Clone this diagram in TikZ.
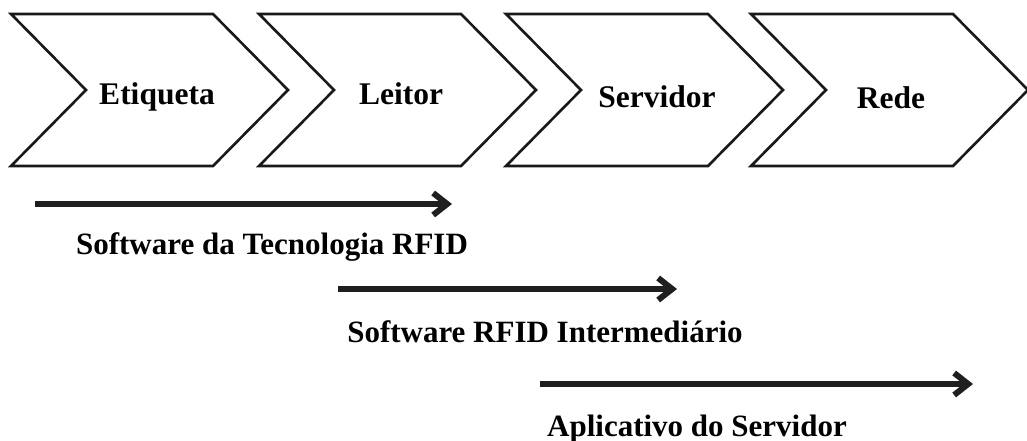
\documentclass[tikz,border=0pt]{standalone}
\usepackage{fontspec}
\setmainfont{Liberation Serif}
\usetikzlibrary{arrows.meta}
\tikzset{
  chev/.style={draw=black!90, line width=2.6pt, line join=miter, fill=white},
  steplabel/.style={anchor=base, font=\fontsize{31.5}{33}\selectfont\bfseries, inner sep=0pt},
  swlabel/.style={anchor=base, font=\fontsize{31}{33}\selectfont\bfseries, inner sep=0pt},
  swarrow/.style={draw=black!88, line width=5.5pt, -{Straight Barb[length=14pt,width=22pt,line width=6pt]}},
}
\begin{document}
\begin{tikzpicture}[x=1pt,y=-1pt]
\useasboundingbox (0,0) rectangle (1027,441);
% four process chevrons: body 202 wide, point 75 deep, height 152
\foreach \x in {11,259,506,751}{
  \draw[chev] (\x,14) -- ++(202,0) -- ++(75,76) -- ++(-75,76) -- ++(-202,0) -- ++(75,-76) -- cycle;
}
\node[steplabel] (etiqueta) at (157,105) {Etiqueta};
\node[steplabel] (leitor)   at (401,105) {Leitor};
\node[steplabel] (servidor) at (657,107) {Servidor};
\node[steplabel] (rede)     at (891,109) {Rede};
% software layers spanning the chain
\coordinate (s1a) at (35,204);  \coordinate (s1b) at (452,204);
\coordinate (s2a) at (338,289); \coordinate (s2b) at (677,289);
\coordinate (s3a) at (540,384); \coordinate (s3b) at (973,384);
\draw[swarrow] (s1a) -- (s1b);
\draw[swarrow] (s2a) -- (s2b);
\draw[swarrow] (s3a) -- (s3b);
\node[swlabel] (sw1) at (272,254) {Software da Tecnologia RFID};
\node[swlabel] (sw2) at (545,342) {Software RFID Intermediário};
\node[swlabel] (sw3) at (697,436) {Aplicativo do Servidor};
\end{tikzpicture}
\end{document}
